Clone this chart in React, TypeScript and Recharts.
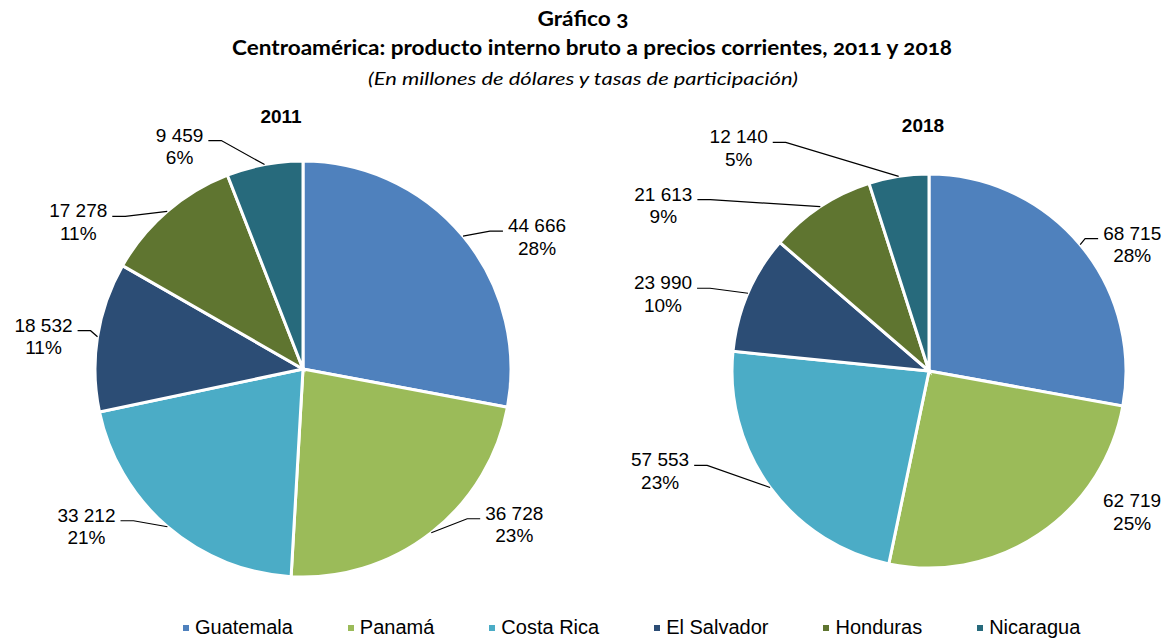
import React from 'react'
import { PieChart, Pie, Cell, Legend } from 'recharts'

const COUNTRIES = ['Guatemala', 'Panamá', 'Costa Rica', 'El Salvador', 'Honduras', 'Nicaragua']
const GDP_2011 = [44666, 36728, 33212, 18532, 17278, 9459]
const GDP_2018 = [68715, 62719, 57553, 23990, 21613, 12140]
const SHARE_2011 = [28, 23, 21, 11, 11, 6]
const SHARE_2018 = [28, 25, 23, 10, 9, 5]

const COLORS = ['#4F81BD', '#9BBB59', '#4BACC6', '#2C4D75', '#5F7530', '#276A7C']

// labels were dragged by hand in the original, so keep their offset from the slice edge
const LABEL_POS_2011 = [[74, -11], [83, -20], [-81, -12], [-54, -12], [-89, -1], [-85, -30]]
const LABEL_POS_2018 = [[52, -12], [93, -34], [-110, -28], [-85, -11], [-157, -13], [-160, -40]]
const LEADER_2018 = [true, false, true, true, true, true]

const FONT = '"Liberation Sans", Arial, sans-serif'
const TITLE_FONT = 'Lato, "Open Sans", sans-serif'
const RADIAN = Math.PI / 180

const fmt = (v: number) => String(v).replace(/\B(?=(\d{3})+(?!\d))/g, ' ')

const data2011 = COUNTRIES.map((name, i) => ({ name, value: GDP_2011[i], share: SHARE_2011[i] }))
const data2018 = COUNTRIES.map((name, i) => ({ name, value: GDP_2018[i], share: SHARE_2018[i] }))

function makeLabel(offsets: number[][], leaders?: boolean[]) {
  return (props: any) => {
    const { cx, cy, midAngle, outerRadius, index, value, payload } = props
    const ax = cx + outerRadius * Math.cos(-midAngle * RADIAN)
    const ay = cy + outerRadius * Math.sin(-midAngle * RADIAN)
    const [dx, dy] = offsets[index]
    const lx = ax + dx
    const ly = ay + dy
    const text = fmt(value)
    const spaces = text.split(' ').length - 1
    const w = (text.length - spaces) * 10.57 + spaces * 5.28
    const side = dx > 0 ? -1 : 1
    const endX = lx + side * (w / 2 + 5)
    const lineY = ly + 6
    const showLeader = leaders ? leaders[index] : true
    const share = payload?.share ?? props.share
    return (
      <g>
        {showLeader && (
          <polyline
            points={`${ax},${ay} ${endX + side * 13},${lineY} ${endX},${lineY}`}
            fill="none"
            stroke="#000"
            strokeWidth={1.2}
          />
        )}
        <text textAnchor="middle" dominantBaseline="central" fontSize={19} fontFamily={FONT} fill="#000">
          <tspan x={lx} y={ly}>{text}</tspan>
          <tspan x={lx} y={ly + 22.5}>{share}%</tspan>
        </text>
      </g>
    )
  }
}

function LegendBox() {
  return (
    <div style={{ display: 'flex', alignItems: 'center', paddingLeft: 183, gap: 55, fontFamily: FONT, fontSize: 20, color: '#000' }}>
      {COUNTRIES.map((c, i) => (
        <div key={c} style={{ display: 'flex', alignItems: 'center' }}>
          <span style={{ width: 6, height: 6, background: COLORS[i], marginRight: 6, display: 'inline-block' }} />
          <span>{c}</span>
        </div>
      ))}
    </div>
  )
}

export default function App() {
  return (
    <div style={{ position: 'absolute', left: 0, top: 0, width: 1168, height: 639, background: '#fff' }}>
      <PieChart width={1168} height={639} margin={{ top: 0, right: 0, bottom: 0, left: 0 }}>
        <Pie
          data={data2011}
          dataKey="value"
          nameKey="name"
          cx={303}
          cy={369}
          outerRadius={208}
          startAngle={90}
          endAngle={-270}
          stroke="#fff"
          strokeWidth={3}
          labelLine={false}
          label={makeLabel(LABEL_POS_2011)}
          isAnimationActive={false}
        >
          {data2011.map((d, i) => (
            <Cell key={d.name} fill={COLORS[i]} />
          ))}
        </Pie>
        <Pie
          data={data2018}
          dataKey="value"
          nameKey="name"
          cx={929}
          cy={371}
          outerRadius={197}
          startAngle={90}
          endAngle={-270}
          stroke="#fff"
          strokeWidth={3}
          labelLine={false}
          label={makeLabel(LABEL_POS_2018, LEADER_2018)}
          isAnimationActive={false}
        >
          {data2018.map((d, i) => (
            <Cell key={d.name} fill={COLORS[i]} />
          ))}
        </Pie>
        <Legend content={() => <LegendBox />} wrapperStyle={{ position: 'absolute', top: 616, left: 0, width: 1168, height: 24 }} />
      </PieChart>
      <svg width={1168} height={150} style={{ position: 'absolute', left: 0, top: 0, pointerEvents: 'none' }}>
        <g fontFamily={TITLE_FONT} fill="#000" textAnchor="middle" style={{ fontVariantNumeric: 'oldstyle-nums' }}>
          <text x={583} y={26} fontSize={20} fontWeight="bold" textLength={91} lengthAdjust="spacingAndGlyphs">Gráfico 3</text>
          <text x={592} y={55} fontSize={20} fontWeight="bold" textLength={720} lengthAdjust="spacingAndGlyphs">
            Centroamérica: producto interno bruto a precios corrientes, 2011 y 2018
          </text>
          <text x={583} y={85} fontSize={18} fontStyle="italic" textLength={430} lengthAdjust="spacingAndGlyphs">
            (En millones de dólares y tasas de participación)
          </text>
        </g>
        <g fontFamily={FONT} fontWeight="bold" fontSize={19} textAnchor="middle" fill="#000">
          <text x={281} y={123}>2011</text>
          <text x={923} y={132}>2018</text>
        </g>
      </svg>
    </div>
  )
}
